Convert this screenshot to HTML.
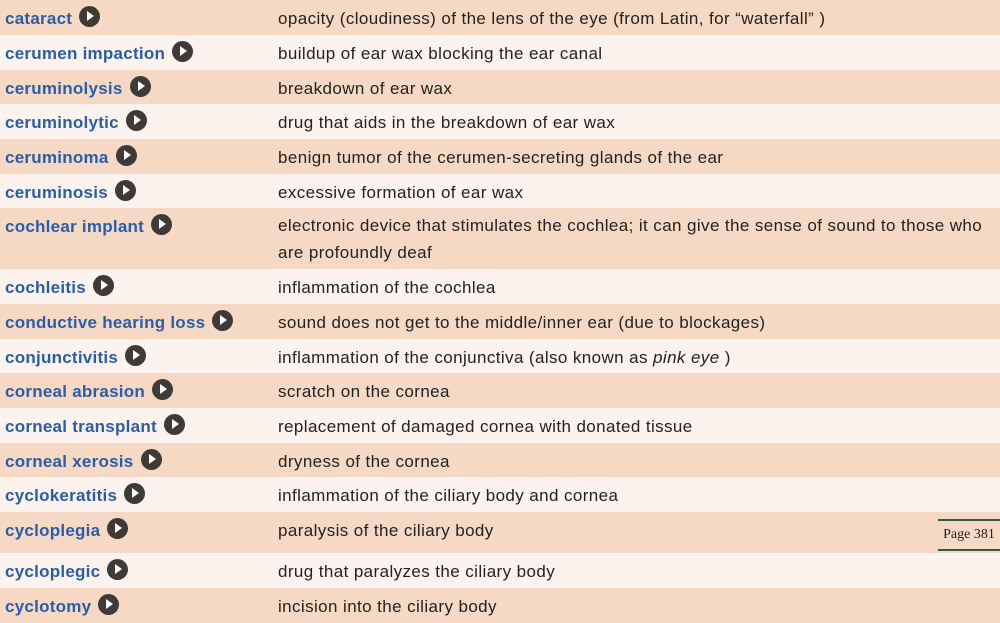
<!DOCTYPE html>
<html><head><meta charset="utf-8"><style>
body{margin:0;width:1000px;height:623px;overflow:hidden;background:#fcf3ee;font-family:"Liberation Sans",sans-serif;}
.r{position:absolute;left:0;width:1000px;}
.d{background:#f6d9c4;}
.l{background:#fcf3ee;}
.t{position:absolute;left:5px;top:6px;font-weight:bold;color:#2a5da8;font-size:17px;letter-spacing:0.25px;line-height:20px;white-space:nowrap;}
.p{display:inline-block;width:21px;height:21px;border-radius:50%;background:#3d3a38;vertical-align:-3px;margin-left:7px;position:relative;}
.p:after{content:"";position:absolute;left:8px;top:5px;border-left:7px solid #fff;border-top:5.5px solid transparent;border-bottom:5.5px solid transparent;}
.x{position:absolute;left:278px;top:5px;color:#222;font-size:17px;letter-spacing:0.4px;line-height:27px;white-space:nowrap;}
.pg{position:absolute;left:938px;top:519px;width:62px;height:28px;border-top:2px solid #2f5f3a;border-bottom:2px solid #2f5f3a;font-family:"Liberation Serif",serif;font-size:14px;line-height:28px;text-align:center;color:#222;}
</style></head><body>
<div class="r d" style="top:0;height:35px"><div class="t">cataract<span class="p"></span></div><div class="x">opacity (cloudiness) of the lens of the eye (from Latin, for “waterfall” )</div></div>
<div class="r l" style="top:35px;height:35px"><div class="t">cerumen impaction<span class="p"></span></div><div class="x">buildup of ear wax blocking the ear canal</div></div>
<div class="r d" style="top:70px;height:34px"><div class="t">ceruminolysis<span class="p"></span></div><div class="x">breakdown of ear wax</div></div>
<div class="r l" style="top:104px;height:35px"><div class="t">ceruminolytic<span class="p"></span></div><div class="x">drug that aids in the breakdown of ear wax</div></div>
<div class="r d" style="top:139px;height:35px"><div class="t">ceruminoma<span class="p"></span></div><div class="x">benign tumor of the cerumen-secreting glands of the ear</div></div>
<div class="r l" style="top:174px;height:34px"><div class="t">ceruminosis<span class="p"></span></div><div class="x">excessive formation of ear wax</div></div>
<div class="r d" style="top:208px;height:61px"><div class="t">cochlear implant<span class="p"></span></div><div class="x" style="top:4px">electronic device that stimulates the cochlea; it can give the sense of sound to those who<br>are profoundly deaf</div></div>
<div class="r l" style="top:269px;height:35px"><div class="t">cochleitis<span class="p"></span></div><div class="x">inflammation of the cochlea</div></div>
<div class="r d" style="top:304px;height:35px"><div class="t">conductive hearing loss<span class="p"></span></div><div class="x">sound does not get to the middle/inner ear (due to blockages)</div></div>
<div class="r l" style="top:339px;height:34px"><div class="t">conjunctivitis<span class="p"></span></div><div class="x">inflammation of the conjunctiva (also known as <i>pink eye</i> )</div></div>
<div class="r d" style="top:373px;height:35px"><div class="t">corneal abrasion<span class="p"></span></div><div class="x">scratch on the cornea</div></div>
<div class="r l" style="top:408px;height:35px"><div class="t">corneal transplant<span class="p"></span></div><div class="x">replacement of damaged cornea with donated tissue</div></div>
<div class="r d" style="top:443px;height:34px"><div class="t">corneal xerosis<span class="p"></span></div><div class="x">dryness of the cornea</div></div>
<div class="r l" style="top:477px;height:35px"><div class="t">cyclokeratitis<span class="p"></span></div><div class="x">inflammation of the ciliary body and cornea</div></div>
<div class="r d" style="top:512px;height:41px"><div class="t">cycloplegia<span class="p"></span></div><div class="x">paralysis of the ciliary body</div></div>
<div class="r l" style="top:553px;height:35px"><div class="t">cycloplegic<span class="p"></span></div><div class="x">drug that paralyzes the ciliary body</div></div>
<div class="r d" style="top:588px;height:35px"><div class="t">cyclotomy<span class="p"></span></div><div class="x">incision into the ciliary body</div></div>
<div class="pg">Page 381</div>
</body></html>
